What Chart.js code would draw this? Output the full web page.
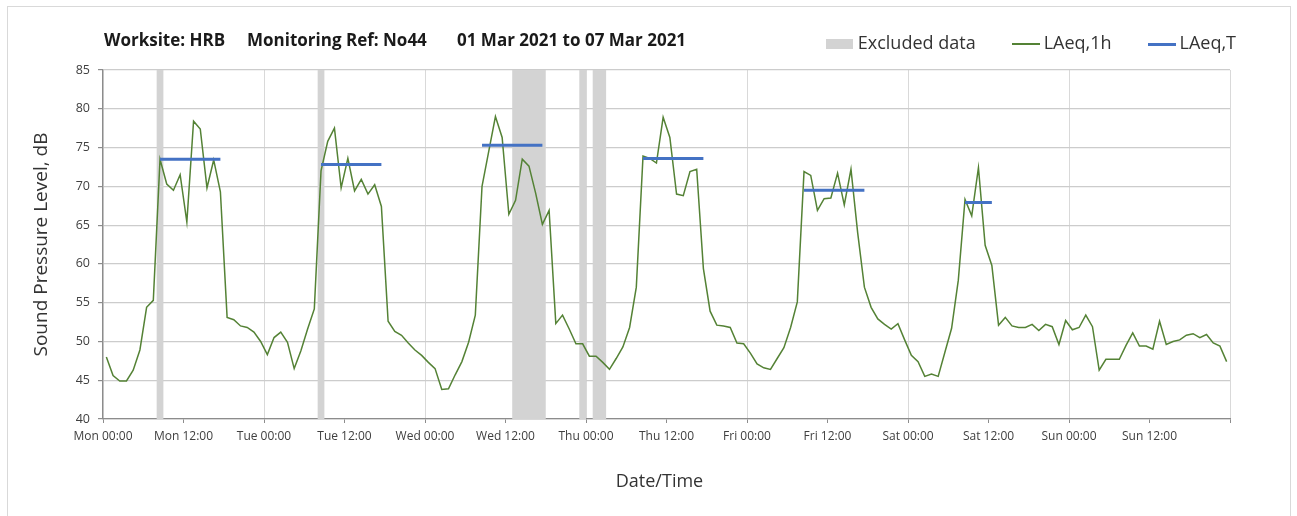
<!DOCTYPE html>
<html>
<head>
<meta charset="utf-8">
<script src="https://cdn.jsdelivr.net/npm/chart.js@4.4.1/dist/chart.umd.min.js"></script>
<style>
  html, body { margin: 0; padding: 0; background: #fff; }
  #wrap { position: relative; width: 1297px; height: 516px; overflow: hidden; font-family: "Open Sans", sans-serif; }
  #frame { position: absolute; left: 7px; top: 6px; width: 1282px; height: 530px; border: 1px solid #d9d9d9; }
  canvas { position: absolute; left: 0; top: 0; }
  .title { position: absolute; top: 28px; font-weight: bold; font-size: 17px; color: #1a1a1a; white-space: nowrap; }
  #xtitle { position: absolute; top: 468px; left: 11px; width: 1297px; text-align: center; font-size: 18px; color: #333; }
</style>
</head>
<body>
<div id="wrap">
  <div id="frame"></div>
  <canvas id="chart" width="1297" height="516"></canvas>
  <div class="title" style="left:104px">Worksite: HRB</div>
  <div class="title" style="left:247px">Monitoring Ref: No44</div>
  <div class="title" style="left:457px">01 Mar 2021 to 07 Mar 2021</div>
  <div id="xtitle">Date/Time</div>
</div>
<script>
// hourly LAeq values, Mon 00:00 .. Sun 23:00 (plotted at mid-hour)
const laeq1h = [
  48.0, 45.6, 44.9, 44.9, 46.3, 48.9, 54.4, 55.3, 73.5, 70.3, 69.5, 71.5,
  65.4, 78.4, 77.4, 69.8, 73.4, 69.3, 53.1, 52.8, 52.0, 51.8, 51.2, 50.0,
  48.3, 50.5, 51.2, 49.9, 46.5, 48.8, 51.6, 54.2, 72.0, 75.8, 77.5, 69.8,
  73.6, 69.4, 70.9, 69.0, 70.2, 67.4, 52.6, 51.3, 50.8, 49.8, 48.9, 48.2,
  47.3, 46.5, 43.8, 43.9, 45.7, 47.4, 49.9, 53.4, 70.0, 74.5, 79.0, 76.3,
  66.4, 68.2, 73.5, 72.6, 69.1, 65.1, 66.9, 52.3, 53.4, 51.6, 49.7, 49.7,
  48.1, 48.1, 47.3, 46.4, 47.8, 49.3, 51.8, 57.0, 73.9, 73.6, 73.0, 78.9,
  76.3, 69.0, 68.8, 71.9, 72.2, 59.4, 53.9, 52.1, 52.0, 51.8, 49.8, 49.7,
  48.5, 47.1, 46.6, 46.4, 47.8, 49.2, 51.8, 55.1, 71.9, 71.4, 66.9, 68.4,
  68.5, 71.7, 67.6, 72.2, 64.0, 57.0, 54.4, 52.9, 52.2, 51.6, 52.3, 50.2,
  48.2, 47.4, 45.5, 45.8, 45.5, 48.6, 51.7, 57.9, 68.3, 66.2, 72.4, 62.4,
  59.8, 52.1, 53.1, 52.0, 51.8, 51.8, 52.2, 51.4, 52.2, 51.9, 49.6, 52.7,
  51.5, 51.8, 53.4, 51.9, 46.3, 47.7, 47.7, 47.7, 49.5, 51.1, 49.4, 49.4,
  49.0, 52.6, 49.6, 50.0, 50.2, 50.8, 51.0, 50.5, 50.9, 49.8, 49.4, 47.4
];

// daytime LAeq,T periods (hours from Mon 00:00)
const periodStart = [8.5, 32.5, 56.5, 80.5, 104.5, 128.5];
const periodEnd = [17.5, 41.5, 65.5, 89.5, 113.5, 132.5];
const laeqT = [73.5, 72.8, 75.3, 73.6, 69.5, 67.9];

// excluded data windows (hours from Mon 00:00)
const excludedStart = [8, 32, 61, 71, 73];
const excludedEnd = [9, 33, 66, 72, 75];

const xTickLabels = [
  "Mon 00:00", "Mon 12:00", "Tue 00:00", "Tue 12:00", "Wed 00:00", "Wed 12:00", "Thu 00:00",
  "Thu 12:00", "Fri 00:00", "Fri 12:00", "Sat 00:00", "Sat 12:00", "Sun 00:00", "Sun 12:00"
];
const yMin = 40, yMax = 85, yStep = 5;

const GREEN = "#548235";
const BLUE = "#4472c4";
const GREY_BAND = "#d3d3d3";
const FONT = "'Open Sans', sans-serif";

const hourlyPoints = laeq1h.map((v, i) => ({ x: i + 0.5, y: v }));
const periodPoints = [];
laeqT.forEach((v, i) => {
  periodPoints.push({ x: periodStart[i], y: v }, { x: periodEnd[i], y: v }, { x: periodEnd[i] + 0.5, y: null });
});

// small swatches for the legend
function swatch(w, h, color) {
  const c = document.createElement("canvas");
  c.width = w;
  c.height = h;
  const g = c.getContext("2d");
  g.fillStyle = color;
  g.fillRect(0, 0, w, h);
  return c;
}

const excludedBands = {
  id: "excludedBands",
  beforeDatasetsDraw(chart) {
    const { ctx, chartArea, scales: { x } } = chart;
    ctx.save();
    ctx.fillStyle = GREY_BAND;
    excludedStart.forEach((s, i) => {
      const x0 = x.getPixelForValue(s);
      const x1 = x.getPixelForValue(excludedEnd[i]);
      ctx.fillRect(x0, chartArea.top, x1 - x0, chartArea.bottom - chartArea.top);
    });
    ctx.restore();
  }
};

// a bit more room under the legend, and let it run past the plot's right edge
const legendPlacement = {
  id: "legendPlacement",
  beforeInit(chart) {
    const fit = chart.legend.fit;
    chart.legend.fit = function () {
      fit.call(this);
      this.height += 7;
    };
  },
  afterLayout(chart) {
    chart.legend.right += 47;
  }
};

new Chart(document.getElementById("chart"), {
  type: "line",
  data: {
    datasets: [
      {
        label: "LAeq,1h",
        data: hourlyPoints,
        borderColor: GREEN,
        borderWidth: 1.5,
        pointRadius: 0,
        tension: 0,
        order: 2
      },
      {
        label: "LAeq,T",
        data: periodPoints,
        borderColor: BLUE,
        borderWidth: 3,
        pointRadius: 0,
        spanGaps: false,
        order: 1
      }
    ]
  },
  options: {
    responsive: false,
    animation: false,
    devicePixelRatio: 1,
    layout: { padding: { top: -6, left: 0, right: 67, bottom: 0 } },
    plugins: {
      tooltip: { enabled: false },
      legend: {
        position: "top",
        align: "end",
        onClick: null,
        labels: {
          usePointStyle: true,
          pointStyleWidth: 18,
          padding: 41,
          color: "#333",
          font: { family: FONT, size: 18 },
          generateLabels: () => [
            { text: "Excluded data", pointStyle: swatch(27, 10, GREY_BAND), fontColor: "#333", hidden: false },
            { text: "LAeq,1h", pointStyle: swatch(28, 2, GREEN), fontColor: "#333", hidden: false },
            { text: "LAeq,T", pointStyle: swatch(28, 3, BLUE), fontColor: "#333", hidden: false }
          ]
        }
      }
    },
    scales: {
      x: {
        type: "linear",
        min: 0,
        max: 168,
        afterFit: (s) => { s.height = 97; },
        afterBuildTicks: (s) => {
          s.ticks = [];
          for (let v = 0; v <= 168; v += 12) s.ticks.push({ value: v });
        },
        ticks: {
          autoSkip: false,
          maxRotation: 0,
          padding: 6,
          color: "#404040",
          font: { family: FONT, size: 12 },
          callback: (v) => xTickLabels[v / 12] || ""
        },
        grid: {
          color: (ctx) => (ctx.tick && ctx.tick.value % 24 === 0 ? "#d9d9d9" : "rgba(0,0,0,0)"),
          tickColor: "#8c8c8c",
          tickLength: 4,
          lineWidth: 1
        },
        border: { color: "#8c8c8c", width: 1.3 }
      },
      y: {
        min: yMin,
        max: yMax,
        afterFit: (s) => { s.width = 103; },
        ticks: {
          stepSize: yStep,
          padding: 8,
          color: "#404040",
          font: { family: FONT, size: 12.5 }
        },
        grid: { color: "#cccccc", lineWidth: 1.2, tickColor: "#8c8c8c", tickLength: 5 },
        border: { color: "#8c8c8c", width: 1.3 },
        title: {
          display: true,
          text: "Sound Pressure Level, dB",
          color: "#333",
          font: { family: FONT, size: 19 },
          padding: { top: 30, bottom: 0 }
        }
      }
    }
  },
  plugins: [excludedBands, legendPlacement]
});
</script>
</body>
</html>
